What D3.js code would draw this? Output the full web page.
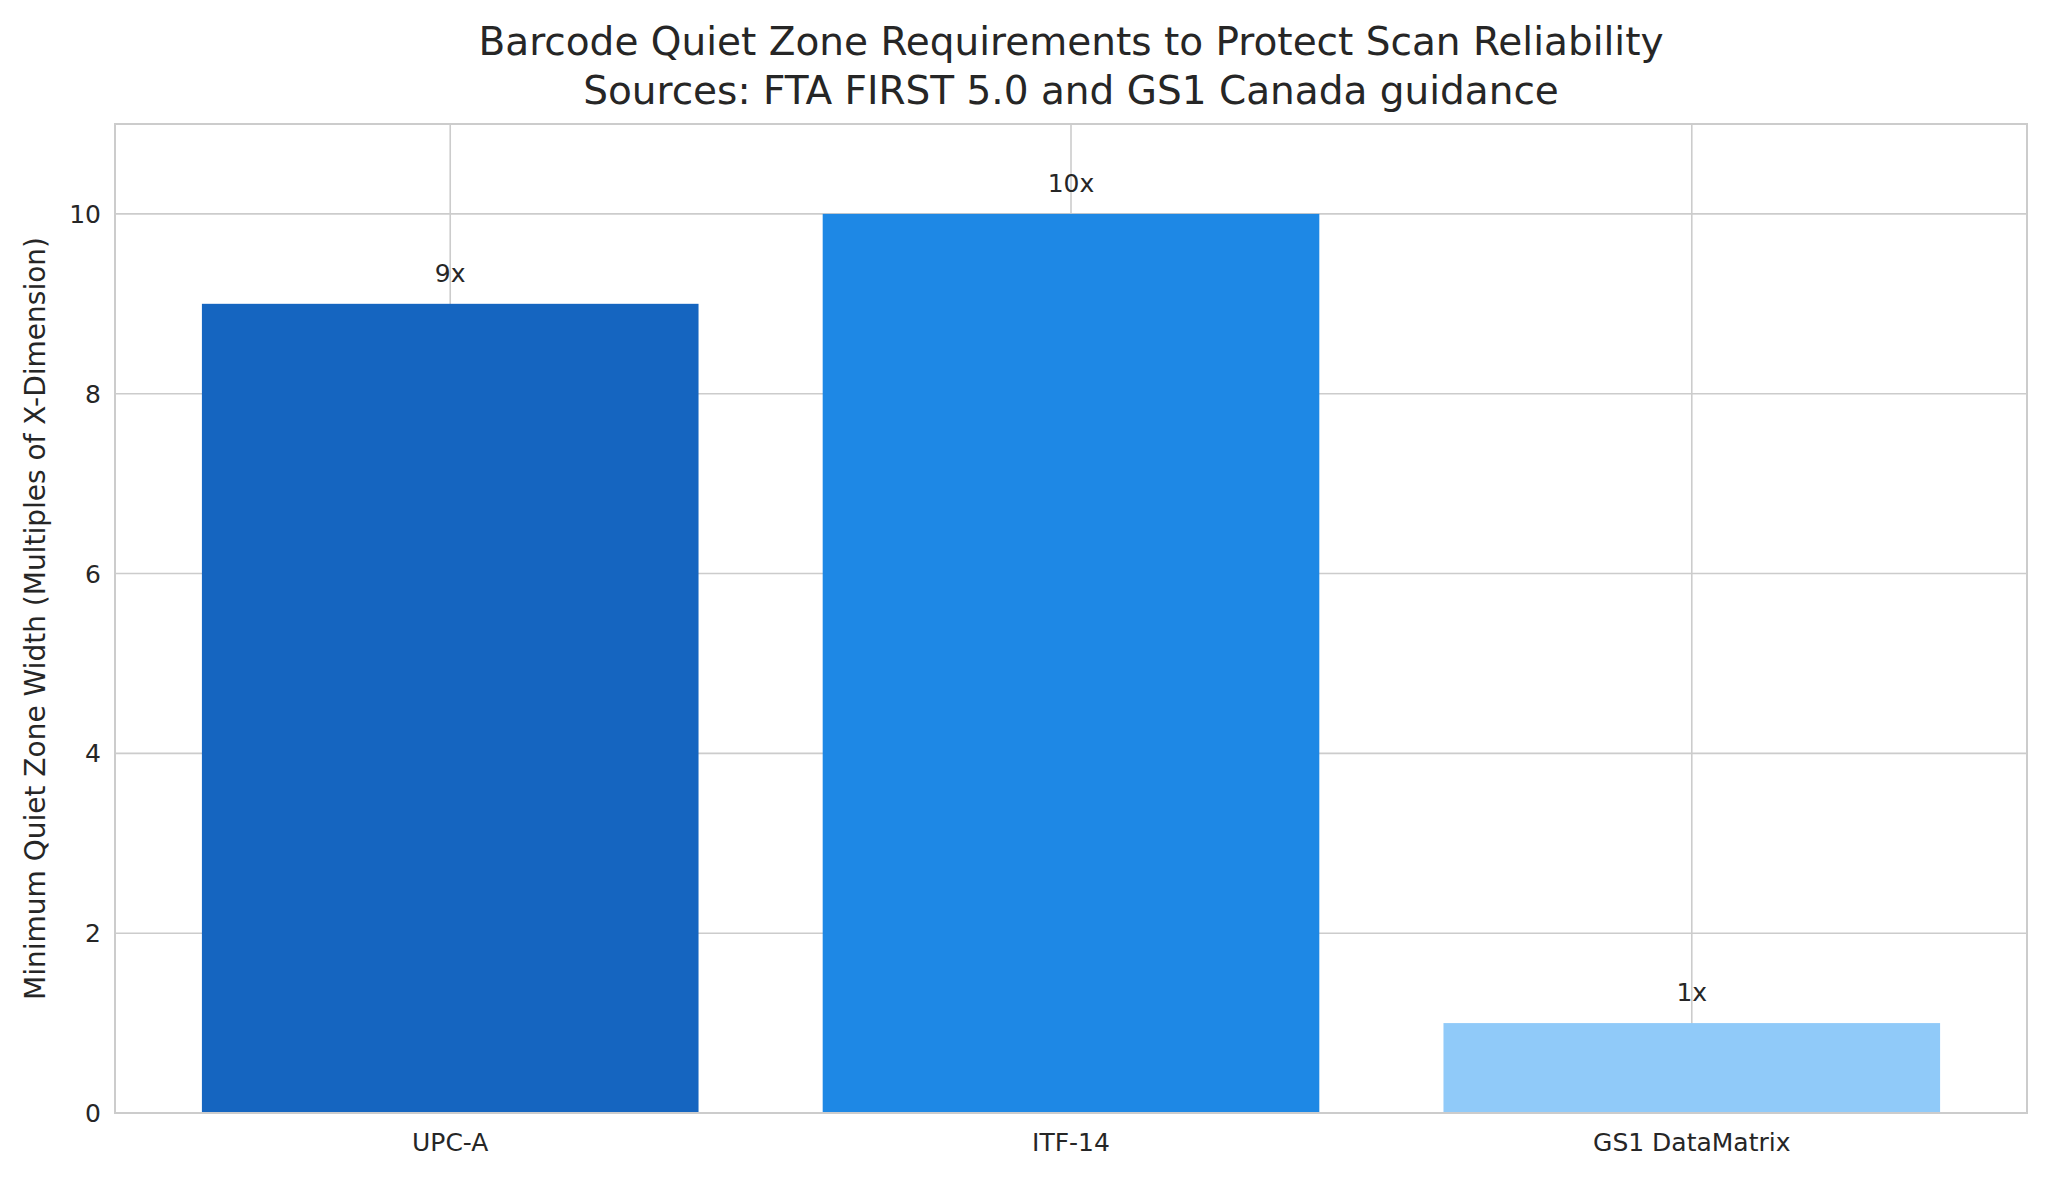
<!DOCTYPE html>
<html><head><meta charset="utf-8">
<script src="https://cdn.jsdelivr.net/npm/d3@7"></script>
<style>body{margin:0;background:#fff}text{font-family:"DejaVu Sans",sans-serif;fill:#262626}</style>
</head><body><svg id="c" width="2048" height="1177"></svg>
<script>
const categories=["UPC-A","ITF-14","GS1 DataMatrix"];
const values=[9,10,1];
const labels=["9x","10x","1x"];
const colors=["#1565C0","#1E88E5","#90CAF9"];
const yTicks=[0,2,4,6,8,10];
const svg=d3.select("#c");
const L=115,R=2027,T=124,B=1113;
const x=d3.scaleLinear().domain([-0.54,2.54]).range([L,R]);
const y=d3.scaleLinear().domain([0,11]).range([B,T]);
const g=svg.append("g");
yTicks.forEach(t=>g.append("line").attr("x1",L).attr("x2",R).attr("y1",y(t)).attr("y2",y(t)).attr("stroke","#cccccc").attr("stroke-width",1.6));
categories.forEach((c,i)=>g.append("line").attr("x1",x(i)).attr("x2",x(i)).attr("y1",T).attr("y2",B).attr("stroke","#cccccc").attr("stroke-width",1.6));
categories.forEach((c,i)=>{
 g.append("rect").attr("x",x(i-0.4)).attr("width",x(0.4)-x(-0.4)).attr("y",y(values[i])).attr("height",y(0)-y(values[i])).attr("fill",colors[i]);
 g.append("text").attr("x",x(i)).attr("y",y(values[i])-22).attr("text-anchor","middle").attr("font-size",25).text(labels[i]);
 g.append("text").attr("x",x(i)).attr("y",B+38).attr("text-anchor","middle").attr("font-size",25).text(c);
});
yTicks.forEach(t=>g.append("text").attr("x",L-14).attr("y",y(t)+9).attr("text-anchor","end").attr("font-size",25).text(t));
g.append("rect").attr("x",L).attr("y",T).attr("width",R-L).attr("height",B-T).attr("fill","none").attr("stroke","#cccccc").attr("stroke-width",2);
svg.append("text").attr("transform",`translate(45,${(T+B)/2}) rotate(-90)`).attr("text-anchor","middle").attr("font-size",28).text("Minimum Quiet Zone Width (Multiples of X-Dimension)");
svg.append("text").attr("x",(L+R)/2).attr("y",55).attr("text-anchor","middle").attr("font-size",39).text("Barcode Quiet Zone Requirements to Protect Scan Reliability");
svg.append("text").attr("x",(L+R)/2).attr("y",104).attr("text-anchor","middle").attr("font-size",39).text("Sources: FTA FIRST 5.0 and GS1 Canada guidance");
</script></body></html>
